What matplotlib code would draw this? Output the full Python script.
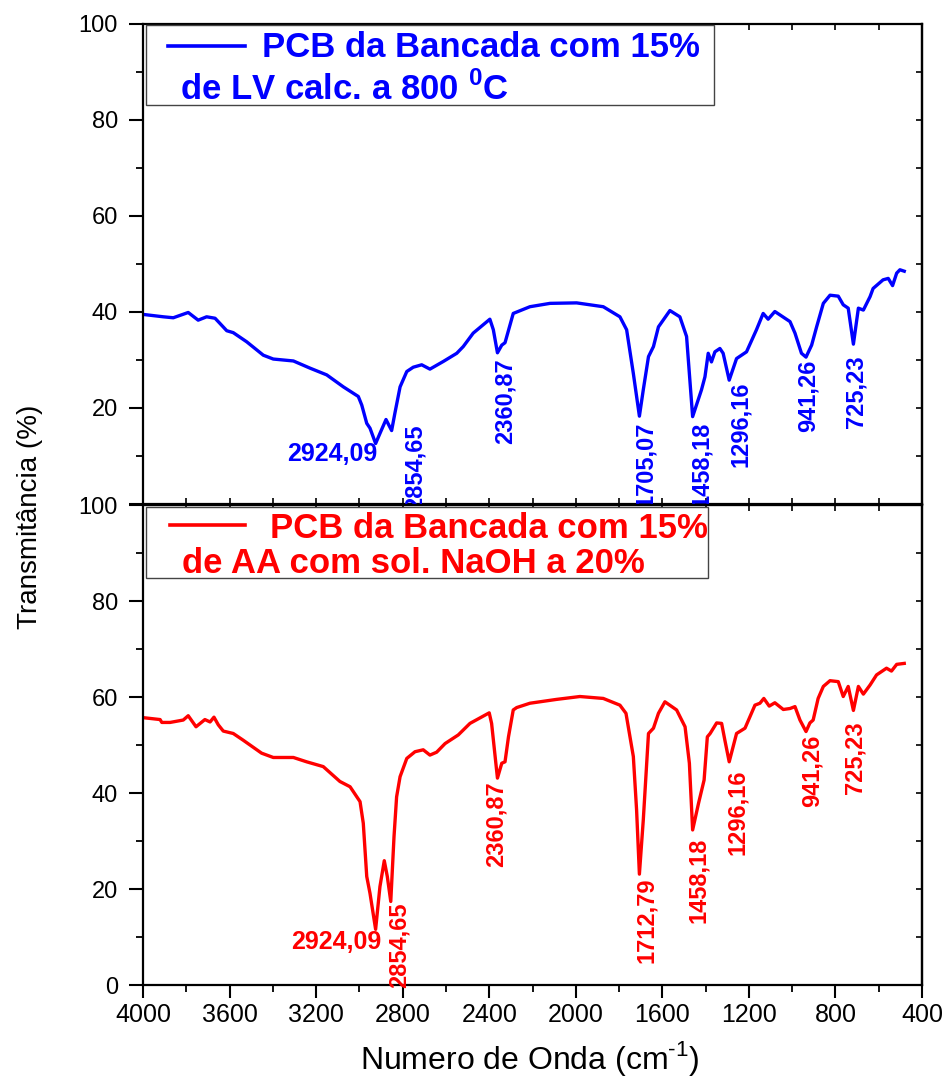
import matplotlib
matplotlib.use("Agg")
import matplotlib.pyplot as plt
from matplotlib.ticker import MultipleLocator
from matplotlib.patches import Rectangle
from matplotlib.lines import Line2D

plt.rcParams['font.family'] = ['Liberation Sans', 'DejaVu Sans']
plt.rcParams['mathtext.fontset'] = 'custom'
plt.rcParams['mathtext.rm'] = 'Liberation Sans'
plt.rcParams['mathtext.bf'] = 'Liberation Sans:bold'

# ---------------- data ----------------
blue_x = [4000, 3906, 3860, 3791, 3745, 3706, 3667, 3644, 3613, 3583, 3521, 3444, 3398, 3305, 3228,
          3151, 3074, 3005, 2989, 2966, 2951, 2925, 2905, 2877, 2851, 2836, 2812, 2781, 2751, 2712,
          2674, 2612, 2550, 2520, 2474, 2397, 2381, 2362, 2342, 2327, 2289, 2212, 2119, 1996, 1873,
          1796, 1765, 1734, 1706, 1688, 1664, 1641, 1618, 1565, 1519, 1488, 1460, 1419, 1403, 1388,
          1373, 1357, 1334, 1319, 1291, 1257, 1211, 1165, 1134, 1111, 1080, 1010, 987, 957, 936,
          910, 887, 856, 825, 787, 764, 741, 717, 694, 671, 640, 626, 580, 556, 536, 517, 502, 482]
blue_t = [39.5, 39.0, 38.8, 39.9, 38.3, 39.0, 38.7, 37.6, 36.1, 35.7, 33.8, 31.0, 30.2, 29.8, 28.3,
          26.9, 24.4, 22.4, 20.6, 16.8, 15.8, 12.6, 14.7, 17.6, 15.3, 18.9, 24.4, 27.6, 28.5, 29.0,
          28.1, 29.7, 31.4, 32.8, 35.6, 38.5, 36.3, 31.5, 33.1, 33.6, 39.7, 41.1, 41.8, 41.9, 41.1,
          39.0, 36.3, 27.2, 18.3, 23.8, 30.7, 32.8, 36.9, 40.3, 39.0, 34.9, 18.2, 23.8, 26.5, 31.4,
          29.6, 31.7, 32.4, 31.4, 25.8, 30.3, 31.7, 36.3, 39.7, 38.5, 40.1, 38.0, 35.6, 31.4, 30.6,
          33.1, 36.9, 41.8, 43.5, 43.3, 41.5, 40.8, 33.3, 40.8, 40.4, 43.2, 44.9, 46.7, 47.0, 45.5,
          48.1, 48.8, 48.5]

red_x = [4000, 3921, 3913, 3875, 3814, 3791, 3755, 3714, 3690, 3672, 3652, 3629, 3583, 3537, 3452,
         3398, 3305, 3244, 3167, 3090, 3043, 2997, 2982, 2966, 2951, 2925, 2905, 2885, 2871, 2855,
         2840, 2828, 2812, 2781, 2743, 2705, 2674, 2643, 2604, 2543, 2489, 2400, 2389, 2362, 2342,
         2327, 2311, 2289, 2273, 2212, 2089, 1981, 1873, 1796, 1768, 1734, 1719, 1706, 1688, 1664,
         1641, 1618, 1588, 1534, 1495, 1475, 1460, 1433, 1407, 1392, 1379, 1349, 1326, 1311, 1291,
         1257, 1218, 1172, 1149, 1131, 1106, 1080, 1041, 1010, 987, 964, 936, 918, 903, 880,
         856, 825, 787, 764, 741, 717, 694, 671, 640, 610, 564, 541, 517, 482]
red_t = [55.7, 55.3, 54.7, 54.7, 55.2, 56.1, 53.8, 55.3, 54.8, 55.8, 54.2, 52.9, 52.4, 51.0, 48.3,
         47.4, 47.4, 46.5, 45.5, 42.4, 41.3, 38.2, 33.7, 22.6, 19.1, 11.6, 20.5, 25.9, 22.6, 17.4,
         30.9, 39.2, 43.4, 47.2, 48.6, 49.0, 47.9, 48.5, 50.3, 52.1, 54.5, 56.7, 54.5, 43.1, 46.2,
         46.5, 51.7, 57.3, 57.8, 58.7, 59.5, 60.1, 59.7, 58.3, 56.6, 47.6, 36.5, 23.1, 34.4, 52.4,
         53.5, 56.6, 59.0, 57.3, 53.8, 46.2, 32.3, 37.8, 42.7, 51.7, 52.4, 54.6, 54.5, 51.0, 46.5,
         52.4, 53.5, 58.3, 58.7, 59.7, 58.1, 58.8, 57.4, 57.6, 58.0, 55.2, 52.8, 54.6, 55.2, 59.7,
         62.2, 63.4, 63.2, 60.1, 62.2, 57.2, 62.2, 60.6, 62.5, 64.6, 66.0, 65.4, 66.8, 67.0]

blue_label = ["PCB da Bancada com 15%", r"de LV calc. a 800 $^{\mathbf{0}}$C"]
red_label = ["PCB da Bancada com 15%", "de AA com sol. NaOH a 20%"]

# peak annotations: (text, x, y)
blue_peak_main = ("2924,09", 2919, 10.4)
blue_peaks_rot = [("2854,65", 2743, 16.6), ("2360,87", 2327, 30.3), ("1705,07", 1677, 17.1),
                  ("1458,18", 1419, 17.1), ("1296,16", 1241, 25.5), ("941,26", 926, 30.0),
                  ("725,23", 707, 31.0)]
red_peak_main = ("2924,09", 2897, 8.9)
red_peaks_rot = [("2854,65", 2817, 17.1), ("2360,87", 2366, 42.4), ("1712,79", 1672, 22.3),
                 ("1458,18", 1433, 30.6), ("1296,16", 1254, 44.8), ("941,26", 910, 52.1),
                 ("725,23", 710, 54.9)]

xticks = [4000, 3600, 3200, 2800, 2400, 2000, 1600, 1200, 800, 400]
yticks = [0, 20, 40, 60, 80, 100]

BLUE = '#0000ff'
RED = '#ff0000'

fig = plt.figure(figsize=(9.5, 10.82), dpi=100)
L, R = 143 / 950, 922 / 950
H = 480 / 1082
ax_top = fig.add_axes([L, 1 - 504 / 1082, R - L, H])
ax_bot = fig.add_axes([L, 1 - 985 / 1082, R - L, H])

def style(ax, bottom_panel):
    ax.set_xlim(4000, 400)
    ax.set_ylim(0, 100)
    for s in ax.spines.values():
        s.set_linewidth(1.6)
    ax.set_xticks(xticks)
    ax.xaxis.set_minor_locator(MultipleLocator(200))
    ax.set_yticks(yticks)
    ax.yaxis.set_minor_locator(MultipleLocator(10))
    ax.tick_params(axis='y', which='major', direction='out', length=10, width=1.5,
                   labelsize=17, pad=8, right=False)
    ax.tick_params(axis='y', which='minor', direction='out', length=5, width=1.3, right=False)
    sy = ax.secondary_yaxis('right')
    sy.set_yticks(yticks)
    sy.yaxis.set_minor_locator(MultipleLocator(10))
    sy.tick_params(which='both', direction='in', length=4, width=1.2, labelright=False)
    sy.spines['right'].set_linewidth(1.6)
    if bottom_panel:
        ax.tick_params(axis='x', which='major', direction='out', length=9, width=1.5,
                       labelsize=18, pad=4, top=False)
        ax.tick_params(axis='x', which='minor', direction='out', length=5, width=1.3, top=False)
        sx = ax.secondary_xaxis('top')
        sx.set_xticks(xticks)
        sx.xaxis.set_minor_locator(MultipleLocator(200))
        sx.tick_params(which='both', direction='in', length=4, width=1.2, labeltop=False)
    else:
        ax.tick_params(axis='x', which='both', direction='in', length=4, width=1.2,
                       top=True, labelbottom=False)

style(ax_top, False)
style(ax_bot, True)
ax_top.set_yticklabels([''] + [str(v) for v in yticks[1:]])
ax_bot.set_yticklabels([str(v) for v in yticks])

ax_top.plot(blue_x, blue_t, color=BLUE, lw=2.4, solid_joinstyle='round')
ax_bot.plot(red_x, red_t, color=RED, lw=2.4, solid_joinstyle='round')

def annotate(ax, main, rots, color):
    t, x, y = main
    ax.text(x, y, t, color=color, fontsize=18, fontweight='bold', ha='right', va='center')
    for t, x, y in rots:
        ax.text(x, y, t, color=color, fontsize=17, fontweight='bold', rotation=90,
                ha='center', va='top', clip_on=False)

annotate(ax_top, blue_peak_main, blue_peaks_rot, BLUE)
annotate(ax_bot, red_peak_main, red_peaks_rot, RED)

def legend_box(ax, box, line_seg, line_y, t1_xy, t2_xy, lines, color):
    x0, y0, x1, y1 = box
    ax.add_patch(Rectangle((x0, y0), x1 - x0, y1 - y0, transform=ax.transAxes,
                           facecolor='white', edgecolor='#444444', lw=1.0, zorder=5))
    ax.add_line(Line2D(line_seg, [line_y, line_y], transform=ax.transAxes, color=color,
                       lw=2.6, zorder=6))
    ax.text(t1_xy[0], t1_xy[1], lines[0], transform=ax.transAxes, color=color, fontsize=25,
            fontweight='bold', ha='left', va='baseline', zorder=6)
    ax.text(t2_xy[0], t2_xy[1], lines[1], transform=ax.transAxes, color=color, fontsize=25,
            fontweight='bold', ha='left', va='baseline', zorder=6)

legend_box(ax_top, (0.004, 0.831, 0.733, 0.998), [0.032, 0.131], 0.954,
           (0.153, 0.931), (0.047, 0.842), blue_label, BLUE)
legend_box(ax_bot, (0.004, 0.848, 0.725, 0.996), [0.035, 0.131], 0.958,
           (0.163, 0.931), (0.050, 0.858), red_label, RED)

fig.text(0.032, 0.522, "Transmitância (%)", rotation=90, fontsize=20, ha='center', va='center')
fig.text(0.558, 0.022, r"Numero de Onda (cm$^{\text{-1}}$)", fontsize=23, ha='center', va='center')

fig.savefig("out.png", dpi=100, facecolor='white')
